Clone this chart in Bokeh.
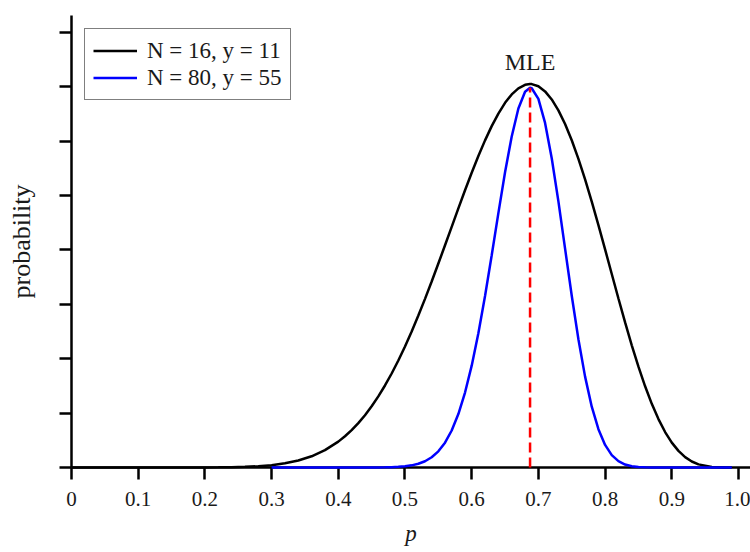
from bokeh.plotting import figure
from bokeh.models import Range1d, FixedTicker, Legend, LegendItem, Label
from bokeh.embed import file_html
from bokeh.resources import INLINE

# ---- data (y in axis-tick units) ----
p_black = [0.00, 0.02, 0.04, 0.06, 0.08, 0.10, 0.12, 0.14, 0.16, 0.18,
           0.20, 0.22, 0.24, 0.26, 0.28, 0.30, 0.32, 0.34, 0.36, 0.38,
           0.40, 0.41, 0.42, 0.43, 0.44, 0.45, 0.46, 0.47, 0.48, 0.49,
           0.50, 0.51, 0.52, 0.53, 0.54, 0.55, 0.56, 0.57, 0.58, 0.59,
           0.60, 0.61, 0.62, 0.63, 0.64, 0.65, 0.66, 0.67, 0.68, 0.6875,
           0.69, 0.70, 0.71, 0.72, 0.73, 0.74, 0.75, 0.76, 0.77, 0.78,
           0.79, 0.80, 0.81, 0.82, 0.83, 0.84, 0.85, 0.86, 0.87, 0.88,
           0.89, 0.90, 0.91, 0.92, 0.93, 0.94, 0.96, 0.98, 0.99]
y_black = [0.0, 0.0, 0.0, 0.0, 0.0, 0.0, 0.0, 0.0, 0.0001, 0.0003,
           0.001, 0.0025, 0.0056, 0.0119, 0.0234, 0.0434, 0.0764, 0.1282, 0.2062, 0.3189,
           0.4758, 0.5739, 0.6869, 0.8157, 0.9613, 1.1248, 1.3069, 1.5079, 1.7281, 1.9677,
           2.2255, 2.5017, 2.7936, 3.1007, 3.4199, 3.7496, 4.0858, 4.4249, 4.7633, 5.0964,
           5.4185, 5.7260, 6.0142, 6.2760, 6.5073, 6.7041, 6.8594, 6.9715, 7.0352, 7.05,
           7.0486, 7.0085, 6.9146, 6.7668, 6.5662, 6.3144, 6.0161, 5.6747, 5.2964, 4.8872,
           4.4560, 4.0097, 3.5567, 3.1064, 2.6672, 2.2469, 1.8537, 1.4931, 1.1705, 0.8896,
           0.6518, 0.4578, 0.3053, 0.1910, 0.1104, 0.0574, 0.0095, 0.0004, 0.0]

p_blue = [0.30, 0.32, 0.34, 0.36, 0.38, 0.40, 0.42, 0.44, 0.45, 0.46,
          0.47, 0.48, 0.49, 0.50, 0.51, 0.52, 0.53, 0.54, 0.55, 0.56,
          0.57, 0.58, 0.59, 0.60, 0.61, 0.62, 0.63, 0.64, 0.65, 0.66,
          0.67, 0.68, 0.6875, 0.69, 0.70, 0.71, 0.72, 0.73, 0.74, 0.75,
          0.76, 0.77, 0.78, 0.79, 0.80, 0.81, 0.82, 0.83, 0.84, 0.85,
          0.86, 0.87, 0.88, 0.90, 0.92, 0.94, 0.96, 0.98, 0.99]
y_blue = [0.0, 0.0, 0.0, 0.0, 0.0, 0.0, 0.0001, 0.0003, 0.0007, 0.0015,
          0.0031, 0.0062, 0.0118, 0.0219, 0.0393, 0.0682, 0.1149, 0.1876, 0.2971, 0.4566,
          0.6799, 0.9827, 1.3778, 1.8722, 2.4671, 3.1536, 3.9023, 4.6763, 5.4279, 6.0864,
          6.5999, 6.9071, 6.98, 6.9730, 6.7771, 6.3348, 5.6863, 4.8919, 4.0231, 3.1583,
          2.3585, 1.6704, 1.1174, 0.7041, 0.4154, 0.2281, 0.1159, 0.0541, 0.0230, 0.0088,
          0.0030, 0.0009, 0.0002, 0.0, 0.0, 0.0, 0.0, 0.0, 0.0]

mle_p = 0.6875
mle_height = 6.98
series_labels = ["N = 16, y = 11", "N = 80, y = 55"]
x_ticks = [0, 0.1, 0.2, 0.3, 0.4, 0.5, 0.6, 0.7, 0.8, 0.9, 1.0]
x_tick_labels = ["0", "0.1", "0.2", "0.3", "0.4", "0.5", "0.6", "0.7", "0.8", "0.9", "1.0"]
y_ticks = [0, 1, 2, 3, 4, 5, 6, 7, 8]

SERIF = "Liberation Serif"
TXT = "#1a1a1a"

p = figure(width=750, height=552, output_backend="svg", toolbar_location=None,
           x_range=Range1d(0, 1.018), y_range=Range1d(0, 8.31),
           min_border_left=71, min_border_right=0, min_border_top=15,
           min_border_bottom=85)
p.outline_line_color = None
p.grid.visible = False
p.background_fill_color = "white"
p.border_fill_color = "white"

# axes
for ax in (p.xaxis[0], p.yaxis[0]):
    ax.axis_line_color = "black"
    ax.axis_line_width = 2.5
    ax.major_tick_line_color = "black"
    ax.major_tick_line_width = 2.5
    ax.major_tick_out = 12
    ax.major_tick_in = 0
    ax.minor_tick_line_color = None

xa = p.xaxis[0]
xa.ticker = FixedTicker(ticks=x_ticks)
xa.major_label_overrides = dict(zip(x_ticks, x_tick_labels))
xa.major_label_text_font = SERIF
xa.major_label_text_font_size = "21px"
xa.major_label_text_color = TXT
xa.major_label_standoff = 12
xa.axis_label = "p"
xa.axis_label_text_font = SERIF
xa.axis_label_text_font_style = "italic"
xa.axis_label_text_font_size = "23px"
xa.axis_label_text_color = TXT
xa.axis_label_standoff = 12

ya = p.yaxis[0]
ya.ticker = FixedTicker(ticks=y_ticks)
ya.major_label_overrides = {t: "" for t in y_ticks}
ya.major_label_standoff = 0
ya.axis_label = "probability"
ya.axis_label_text_font = SERIF
ya.axis_label_text_font_style = "normal"
ya.axis_label_text_font_size = "26px"
ya.axis_label_text_color = TXT
ya.axis_label_standoff = 24

# curves
r_black = p.line(p_black, y_black, line_color="black", line_width=2.5, level="annotation")
r_blue = p.line(p_blue, y_blue, line_color="#0000ff", line_width=2.5, level="annotation")
p.segment(x0=[mle_p], y0=[0], x1=[mle_p], y1=[mle_height], line_color="#ff0000",
          line_width=2.5, line_dash="10 5", level="annotation")

p.add_layout(Label(x=mle_p, y=max(y_black), y_offset=22, text="MLE",
                   text_align="center", text_baseline="alphabetic",
                   text_font=SERIF, text_font_size="24px", text_color=TXT))

legend = Legend(items=[LegendItem(label=series_labels[0], renderers=[r_black]),
                       LegendItem(label=series_labels[1], renderers=[r_blue])],
                location="top_left", margin=13, padding=8, spacing=0,
                glyph_width=44, glyph_height=27, label_height=27,
                label_standoff=10,
                label_text_font=SERIF, label_text_font_size="23px",
                label_text_color=TXT,
                border_line_color="black", border_line_width=1.3,
                background_fill_color="white", background_fill_alpha=1.0)
p.add_layout(legend)

open("out.html", "w").write(file_html(p, INLINE))
